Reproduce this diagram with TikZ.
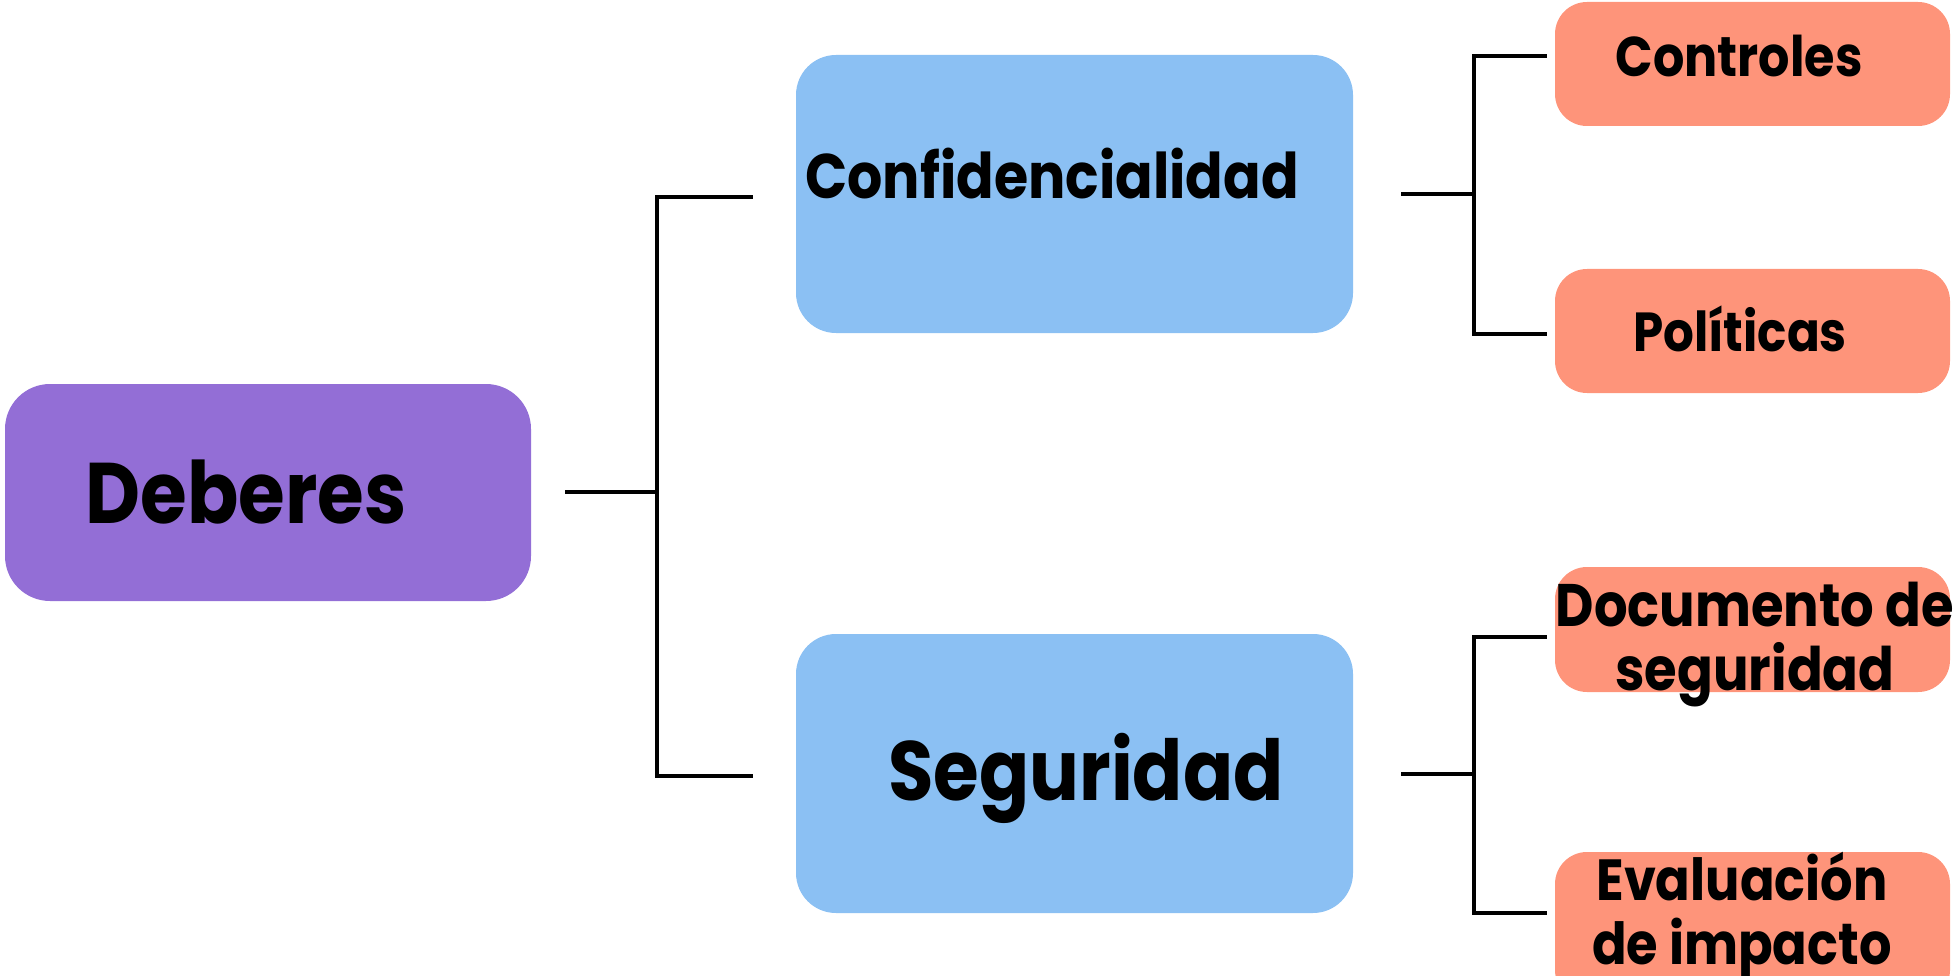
\documentclass[tikz,border=0pt]{standalone}
\usepackage{fontspec}
\setmainfont{Poppins}[FakeStretch=0.88]
\definecolor{cdeb}{RGB}{147,110,214}
\definecolor{cblue}{RGB}{139,192,243}
\definecolor{csal}{RGB}{254,148,122}
\tikzset{
  box/.style={rounded corners=#1, inner sep=0pt, draw=none, rectangle},
  lbl/.style={anchor=base, inner sep=0pt, text=black, align=center},
  con/.style={line width=3.5pt, black, line cap=rect},
}
\begin{document}
\begin{tikzpicture}[x=1pt,y=-1pt]
\useasboundingbox (0,0) rectangle (1954,976);
\clip (0,0) rectangle (1954,976);
% boxes
\node[box=45pt, fill=cdeb, minimum width=526pt, minimum height=217pt] (deb) at (268,492.5) {};
\node[box=40pt, fill=cblue, minimum width=557pt, minimum height=278pt] (conf) at (1074.5,194) {};
\node[box=40pt, fill=cblue, minimum width=557pt, minimum height=279pt] (seg) at (1074.5,773.5) {};
\node[box=32pt, fill=csal, minimum width=395pt, minimum height=124pt] (ctrl) at (1752.5,64) {};
\node[box=32pt, fill=csal, minimum width=395pt, minimum height=124pt] (pol) at (1752.5,331) {};
\node[box=32pt, fill=csal, minimum width=395pt, minimum height=125pt] (doc) at (1752.5,629.5) {};
\node[box=32pt, fill=csal, minimum width=395pt, minimum height=150pt] (eva) at (1752.5,927) {};
% labels
\node[lbl, font=\bfseries\fontsize{86}{90}\selectfont] (tdeb) at (246,523) {Deberes};
\node[lbl, font=\bfseries\fontsize{63}{70}\selectfont] (tconf) at (1052,199) {Confidencialidad};
\node[lbl, font=\bfseries\fontsize{84}{88}\selectfont] (tseg) at (1086,800) {Seguridad};
\node[lbl, font=\bfseries\fontsize{56}{64}\selectfont] (tctrl) at (1739,77) {Controles};
\node[lbl, font=\bfseries\fontsize{55}{64}\selectfont] (tpol) at (1740,351) {Políticas};
\node[lbl, font=\bfseries\fontsize{60}{64}\selectfont] (tdoc) at (1755,690) {Documento de\\seguridad};
\node[lbl, font=\bfseries\fontsize{58}{64}\selectfont] (teva) at (1742,964) {Evaluación\\de impacto};
% connectors left
\coordinate (a0) at (567,492);
\coordinate (a1) at (657,492);
\coordinate (at) at (657,197);
\coordinate (ab) at (657,776);
\coordinate (ct) at (751,197);
\coordinate (cb) at (751,776);
\draw[con] (a0) -- (a1);
\draw[con] (ct) -- (at) -- (ab) -- (cb);
% connectors right top
\coordinate (b0) at (1403,194);
\coordinate (b1) at (1474,194);
\coordinate (bt) at (1474,56);
\coordinate (bb) at (1474,334);
\coordinate (et) at (1545,56);
\coordinate (eb) at (1545,334);
\draw[con] (b0) -- (b1);
\draw[con] (et) -- (bt) -- (bb) -- (eb);
% connectors right bottom
\coordinate (c0) at (1403,774);
\coordinate (c1) at (1474,774);
\coordinate (gt) at (1474,637);
\coordinate (gb) at (1474,913);
\coordinate (ft) at (1545,637);
\coordinate (fb) at (1545,913);
\draw[con] (c0) -- (c1);
\draw[con] (ft) -- (gt) -- (gb) -- (fb);
\end{tikzpicture}
\end{document}
